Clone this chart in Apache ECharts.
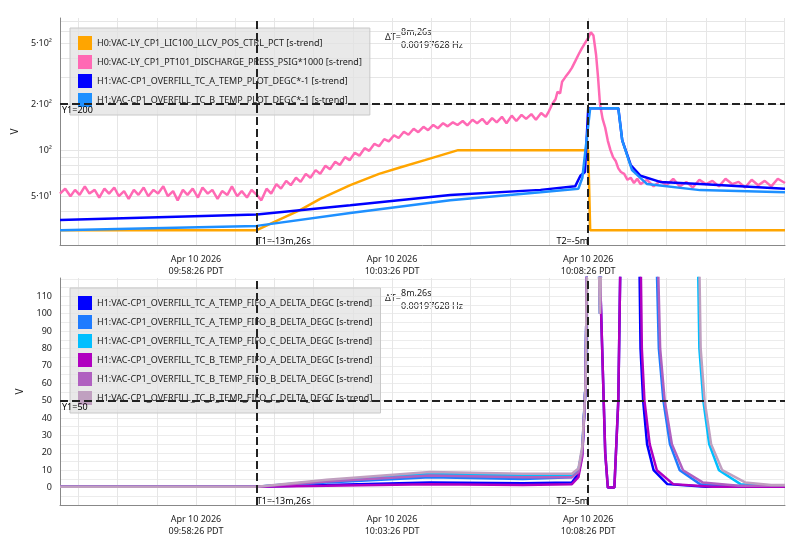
<!DOCTYPE html>
<html><head><meta charset="utf-8">
<script src="https://cdn.jsdelivr.net/npm/echarts@6/dist/echarts.min.js"></script>
<style>html,body{margin:0;padding:0;background:#fff}#c{width:804px;height:551px}</style>
</head><body><div id="c"></div>
<script>
// x values: seconds relative to 10 Apr 2026 09:58:26 PDT
const xTickValues = [0, 300, 600];
const xTickLabels = ['Apr 10 2026\n09:58:26 PDT', 'Apr 10 2026\n10:03:26 PDT', 'Apr 10 2026\n10:08:26 PDT'];
const topYTicks = [50, 100, 200, 500];
const topYLabels = {50: '5·10¹', 100: '10²', 200: '2·10²', 500: '5·10²'};
const botYTicks = [0,10,20,30,40,50,60,70,80,90,100,110];
const cursorT1 = 93, cursorT2 = 600;

const topNames = ['H0:VAC-LY_CP1_LIC100_LLCV_POS_CTRL_PCT [s-trend]','H0:VAC-LY_CP1_PT101_DISCHARGE_PRESS_PSIG*1000 [s-trend]','H1:VAC-CP1_OVERFILL_TC_A_TEMP_PLOT_DEGC*-1 [s-trend]','H1:VAC-CP1_OVERFILL_TC_B_TEMP_PLOT_DEGC*-1 [s-trend]'];
const topColors = ['#ffa500','#ff69b4','#0000ff','#1e90ff'];
const orange = [[-208,30],[93,30],[120,34],[159,40.6],[190,48],[236,59],[280,70],[312,77],[350,86],[401,100],[600,100],[603,30],[901,30]];
const pink = [[-208,52],[-200,56],[-192,50],[-185,55],[-178,51],[-170,58],[-163,52],[-155,55],[-148,49],[-140,56],[-133,52],[-125,57],[-118,50],[-110,54],[-103,48],[-95,55],[-88,51],[-80,57],[-73,50],[-65,55],[-58,52],[-50,58],[-43,50],[-35,54],[-28,47],[-20,55],[-13,51],[-5,56],[3,49],[10,57],[18,52],[25,55],[33,48],[40,54],[48,51],[55,58],[63,50],[70,54],[78,49],[85,55],[93,51],[100,47],[108,56],[115,52],[123,60],[130,56],[138,63],[145,59],[153,66],[160,62],[168,70],[175,66],[183,74],[190,70],[198,79],[205,75],[213,84],[220,80],[228,90],[235,86],[243,96],[250,92],[258,103],[265,99],[273,110],[280,106],[288,118],[295,114],[303,125],[310,120],[318,132],[325,126],[333,138],[340,131],[348,142],[355,135],[363,146],[370,139],[378,150],[385,143],[393,152],[400,146],[408,155],[415,145],[423,158],[430,150],[438,160],[445,148],[453,162],[460,152],[468,165],[475,150],[483,168],[490,155],[498,170],[505,160],[513,172],[520,158],[528,175],[535,165],[540,180],[545,200],[550,215],[553,240],[557,235],[560,280],[565,300],[570,320],[575,345],[580,380],[585,420],[590,460],[595,500],[600,540],[604,590],[608,560],[612,420],[615,300],[618,200],[622,160],[626,140],[630,115],[634,100],[638,90],[642,85],[646,76],[650,72],[655,70],[660,64],[665,66],[670,61],[675,65],[680,60],[690,64],[700,58],[710,63],[720,59],[730,65],[740,58],[750,62],[760,57],[770,64],[780,60],[790,63],[800,58],[810,65],[820,60],[830,62],[840,57],[850,64],[860,59],[870,63],[880,58],[890,65],[901,61]];
const tcA = [[-208,35],[93,38],[236,43.7],[389,51],[527,55],[580,58],[588,68],[595,72],[600,188],[646,188],[652,116],[665,80],[680,68],[710,62],[771,60],[901,56]];
const tcB = [[-208,30],[93,32],[236,38.8],[389,47],[527,53],[585,56],[591,66],[603,188],[646,188],[652,116],[667,74],[690,60],[771,54.8],[901,53]];

const botNames = ['H1:VAC-CP1_OVERFILL_TC_A_TEMP_FIFO_A_DELTA_DEGC [s-trend]','H1:VAC-CP1_OVERFILL_TC_A_TEMP_FIFO_B_DELTA_DEGC [s-trend]','H1:VAC-CP1_OVERFILL_TC_A_TEMP_FIFO_C_DELTA_DEGC [s-trend]','H1:VAC-CP1_OVERFILL_TC_B_TEMP_FIFO_A_DELTA_DEGC [s-trend]','H1:VAC-CP1_OVERFILL_TC_B_TEMP_FIFO_B_DELTA_DEGC [s-trend]','H1:VAC-CP1_OVERFILL_TC_B_TEMP_FIFO_C_DELTA_DEGC [s-trend]'];
const botColors = ['#0000ff','#1e7bff','#00bfff','#b000c0','#b060c0','#c0a0c0'];
const fA1 = [[-208,0.5],[93,0.5],[200,1.5],[358,3],[500,2.5],[575,3],[585,8],[591,20],[596,60],[600,200],[615,200],[619,110],[626,20],[630,0],[640,0],[646,50],[652,200],[676,200],[680,80],[684,50],[690,25],[700,10],[721,2],[780,0.5],[901,0.5]];
const fA2 = [[-208,0.5],[93,0.5],[200,3],[358,6],[500,5],[575,6],[585,10],[591,22],[596,60],[600,200],[612,200],[618,100],[624,200],[700,200],[708,80],[715,50],[725,25],[740,10],[771,2],[820,1],[901,0.5]];
const fA3 = [[-208,0.5],[93,0.5],[200,4],[358,8],[500,7],[575,7],[585,10],[591,22],[596,60],[600,200],[612,200],[618,100],[624,200],[765,200],[770,80],[776,50],[785,25],[800,10],[833,2],[870,1],[901,1]];
const fB1 = [[-208,0.5],[93,0.5],[200,1],[358,2],[500,1.5],[575,2],[585,6],[591,18],[596,60],[600,200],[615,200],[619,110],[626,20],[630,0],[640,0],[646,50],[652,200],[678,200],[682,80],[686,50],[694,25],[705,10],[730,2],[790,0.5],[901,0.5]];
const fB2 = [[-208,0.5],[93,0.5],[200,3.5],[358,7],[500,6],[575,6],[585,9],[591,20],[596,60],[600,200],[612,200],[618,100],[624,200],[702,200],[710,80],[717,50],[728,25],[745,10],[775,3],[830,1],[901,1]];
const fB3 = [[-208,0.5],[93,0.5],[200,4.5],[358,9],[500,8],[575,8],[585,11],[591,24],[596,60],[600,200],[612,200],[618,100],[624,200],[767,200],[772,80],[778,50],[788,25],[805,10],[840,3],[880,1.5],[901,1.5]];

const fnt = 'Noto Sans';
const chart = echarts.init(document.getElementById('c'));
function cursorLines(yv, yLabel) {
  return {
    silent: true, symbol: 'none',
    lineStyle: {color: '#222', type: [8, 4], width: 2},
    data: [
      {xAxis: cursorT1, label: {show: true, formatter: 'T1=-13m,26s', position: 'start', distance: [-2, -8], color: '#000', fontSize: 9, fontFamily: fnt, align: 'left'}},
      {xAxis: cursorT2, label: {show: true, formatter: 'T2=-5m', position: 'start', distance: [-2, -8], color: '#000', fontSize: 9, fontFamily: fnt, align: 'right'}},
      {yAxis: yv, label: {show: true, formatter: yLabel, position: 'insideStartBottom', distance: [2, 2], color: '#000', fontSize: 9, fontFamily: fnt}}
    ]
  };
}
function mkX(gi) {
  return {
    type: 'value', gridIndex: gi, min: -208, max: 901,
    axisLine: {lineStyle: {color: '#888'}, onZero: false},
    axisTick: {show: false, customValues: [-180,-120,-60,0,60,120,180,240,300,360,420,480,540,600,660,720,780,840,900]},
    axisLabel: {customValues: xTickValues, formatter: v => xTickLabels[xTickValues.indexOf(v)] || '', fontSize: 9, fontFamily: fnt, color: '#222', lineHeight: 12},
    splitLine: {show: true, lineStyle: {color: '#e6e6e6'}}
  };
}
const legendBase = {orient: 'vertical', itemWidth: 14, itemHeight: 14, itemGap: 5, icon: 'rect', backgroundColor: 'rgba(225,225,225,0.75)', borderColor: '#c8c8c8', borderWidth: 1, padding: [8, 8, 8, 8], textStyle: {fontSize: 9, fontFamily: fnt, color: '#222'}};
const topSeriesData = [orange, pink, tcA, tcB];
const botSeriesData = [fA1, fA2, fA3, fB1, fB2, fB3];
const series = [];
topSeriesData.forEach((d, i) => series.push({name: topNames[i], type: 'line', xAxisIndex: 0, yAxisIndex: 0, data: d, showSymbol: false, lineStyle: {width: 2.5, color: topColors[i]}, itemStyle: {color: topColors[i]}, z: 3, markLine: i === 0 ? cursorLines(200, 'Y1=200') : undefined}));
botSeriesData.forEach((d, i) => series.push({name: botNames[i], type: 'line', xAxisIndex: 1, yAxisIndex: 1, data: d, showSymbol: false, lineStyle: {width: 2.5, color: botColors[i]}, itemStyle: {color: botColors[i]}, z: 3, markLine: i === 0 ? cursorLines(50, 'Y1=50') : undefined}));
chart.setOption({
  animation: false,
  textStyle: {fontFamily: fnt},
  grid: [{left: 60, right: 19, top: 18, height: 227}, {left: 60, right: 19, top: 278, height: 227}],
  xAxis: [mkX(0), mkX(1)],
  yAxis: [
    {type: 'log', gridIndex: 0, min: 24, max: 730, name: 'V', nameLocation: 'middle', nameGap: 32, nameTextStyle: {fontSize: 10, color: '#222'},
     axisLine: {show: true, onZero: false, lineStyle: {color: '#888'}}, axisTick: {show: false, customValues: [30,40,50,60,70,80,90,100,200,300,400,500,600,700]},
     axisLabel: {customValues: topYTicks, formatter: v => topYLabels[Math.round(v)] || '', fontSize: 9, color: '#222'},
     splitLine: {show: true, lineStyle: {color: '#e6e6e6'}}},
    {type: 'value', gridIndex: 1, min: -10, max: 120.5, name: 'V', nameLocation: 'middle', nameGap: 32, nameTextStyle: {fontSize: 10, color: '#222'},
     axisLine: {show: true, onZero: false, lineStyle: {color: '#888'}}, axisTick: {show: false, customValues: [-5,0,5,10,15,20,25,30,35,40,45,50,55,60,65,70,75,80,85,90,95,100,105,110,115,120]},
     axisLabel: {customValues: botYTicks, fontSize: 9, color: '#222'},
     splitLine: {show: true, lineStyle: {color: '#ececec'}}}
  ],
  legend: [
    Object.assign({}, legendBase, {data: topNames, left: 70, top: 28}),
    Object.assign({}, legendBase, {data: botNames, left: 70, top: 288})
  ],
  graphic: [
    {type: 'text', left: 385, top: 33, style: {text: 'ΔT=', fontSize: 9, fontFamily: fnt, fill: '#222'}},
    {type: 'text', left: 401, top: 26, style: {text: '8m,26s\n0.00197628 Hz', fontSize: 9, lineHeight: 13, fontFamily: fnt, fill: '#222'}},
    {type: 'text', left: 385, top: 294, style: {text: 'ΔT=', fontSize: 9, fontFamily: fnt, fill: '#222'}},
    {type: 'text', left: 401, top: 287, style: {text: '8m,26s\n0.00197628 Hz', fontSize: 9, lineHeight: 13, fontFamily: fnt, fill: '#222'}}
  ],
  series: series
});
</script></body></html>
